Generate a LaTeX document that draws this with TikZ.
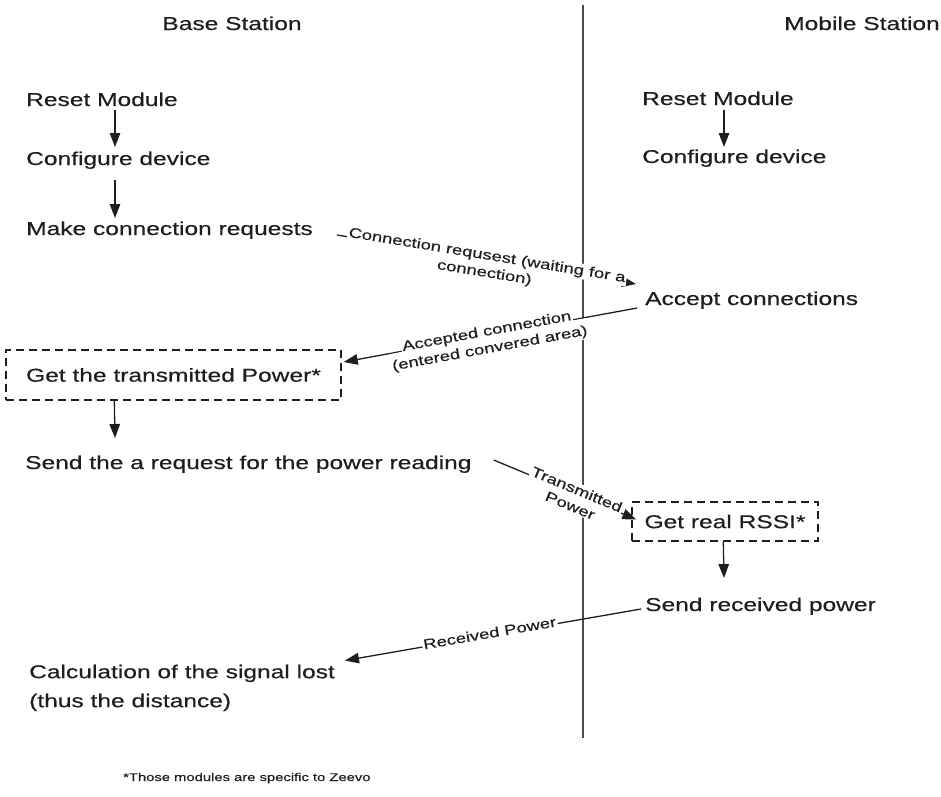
\documentclass[tikz,border=0pt]{standalone}
\usepackage{fontspec}
\setmainfont{Liberation Sans}[FakeStretch=1.32,FakeBold=0.4]
\usetikzlibrary{arrows.meta,calc}
\definecolor{ink}{HTML}{1E1E1E}
\begin{document}
\begin{tikzpicture}[x=1pt,y=-1pt,
  txt/.style={inner sep=0pt, anchor=base west, font=\fontsize{18.6}{29}\selectfont, text=ink},
  dbox/.style={draw=ink, line width=1.4pt, dash pattern=on 8pt off 5pt, inner sep=0pt,
               font=\fontsize{18.6}{29}\selectfont, text=ink},
  flow/.style={draw=ink, line width=1.3pt, -{Triangle[length=14pt,width=10.5pt]}},
  lab/.style={fill=white, inner sep=1.2pt, sloped, font=\fontsize{14}{16}\selectfont, text=ink},
  divider/.style={draw=black!70, line width=1.6pt}
]
\useasboundingbox (0,0) rectangle (941,796);

% divider
\coordinate (vtop) at (583,5);
\coordinate (vbot) at (583,738);
\draw[divider] (vtop) -- (vbot);

% headers
\node[txt, anchor=base] (bs) at (232,30) {Base Station};
\node[txt] (ms) at (784,30) {Mobile Station};

% base station column
\node[txt] (rm1) at (26,106) {Reset Module};
\node[txt] (cd1) at (26,165) {Configure device};
\node[txt] (mcr) at (26,235) {Make connection requests};
\node[dbox, minimum width=335pt, minimum height=50pt] (gtp) at (173.5,375) {Get the transmitted Power*};
\node[txt] (str) at (25,469) {Send the a request for the power reading};
\node[txt, anchor=north west, align=left] (calc) at (29,664.5) {Calculation of the signal lost\\(thus the distance)};

% mobile station column
\node[txt] (rm2) at (642,105) {Reset Module};
\node[txt] (cd2) at (642,163) {Configure device};
\node[txt] (acc) at (645,305) {Accept connections};
\node[dbox, minimum width=186pt, minimum height=39pt] (rssi) at (725,521.5) {Get real RSSI*};
\node[txt] (srp) at (645,611) {Send received power};

% footnote
\node[txt, font=\fontsize{11.2}{13}\selectfont] (foot) at (123,781) {*Those modules are specific to Zeevo};

% vertical flow arrows
\draw[flow] ($(rm1.base west)+(89,4)$) -- ($(cd1.base west)+(89,-18)$);
\draw[flow] ($(cd1.base west)+(89,15)$) -- ($(mcr.base west)+(89,-17)$);
\draw[flow] ($(rm2.base west)+(82,5)$) -- ($(cd2.base west)+(82,-16)$);
\draw[flow] ($(gtp.south west)+(109,0)$) -- ($(str.base west)+(90,-31)$);
\draw[flow] ($(rssi.south west)+(92,0)$) -- ($(srp.base west)+(79,-33)$);

% messages
\draw[flow] ($(mcr.base east)+(24,0)$) -- ($(acc.base west)+(-9,-21)$)
  node[lab, pos=0.5, anchor=north, text height=15.5pt] {connection)}
  node[lab, pos=0.5, anchor=base] {Connection requsest (waiting for a};
\draw[flow] ($(acc.base west)+(-8,3)$) -- ($(gtp.east)+(2,-13)$)
  node[lab, pos=0.51, anchor=north, text height=15.5pt] {(entered convered area)}
  node[lab, pos=0.51, anchor=base] {Accepted connection};
\draw[flow] ($(str.base east)+(22,-9)$) -- ($(rssi.west)+(5,-2)$)
  node[lab, pos=0.57, anchor=north, text height=15.5pt] {Power}
  node[lab, pos=0.57, anchor=base] {Transmitted};
\draw[flow] ($(srp.base west)+(-4,-2)$) -- ($(calc.north west)+(316,-4)$)
  node[lab, pos=0.51, anchor=mid] {Received Power};
\end{tikzpicture}
\end{document}
